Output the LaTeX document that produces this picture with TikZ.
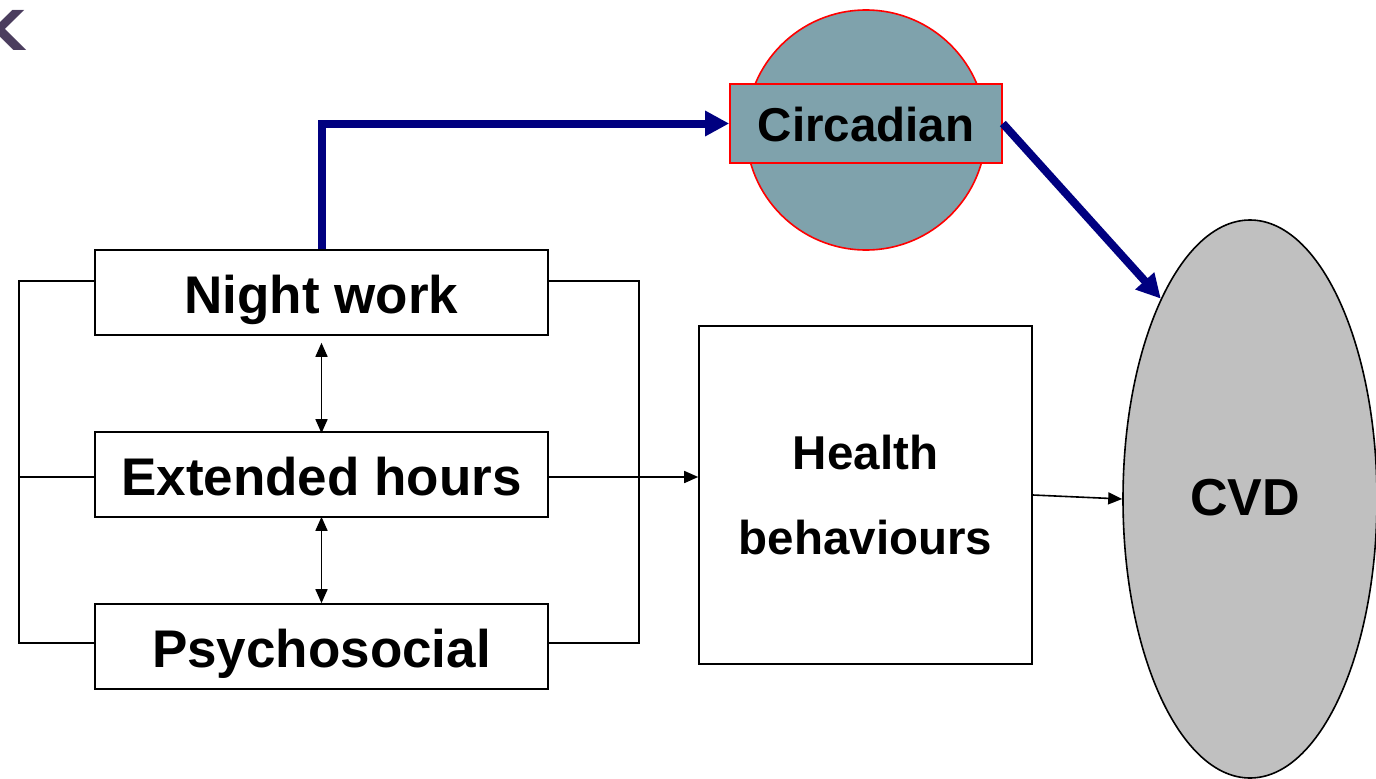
\documentclass[tikz,border=0pt]{standalone}
\usepackage{fontspec}
\setmainfont{Liberation Sans}
\newfontfamily\headingfont{DejaVu Sans}
\usetikzlibrary{arrows.meta,shapes.geometric}

\definecolor{circfill}{HTML}{7FA2AC}
\definecolor{navyarrow}{HTML}{000080}
\definecolor{cvdfill}{HTML}{C0C0C0}
\definecolor{titlepurple}{HTML}{4B3D5E}

\tikzset{
  factor/.style={draw=black, line width=1.6pt, fill=white, inner sep=0pt,
    minimum width=453pt, minimum height=85pt, text height=42pt, text depth=0pt,
    font=\fontsize{53}{60}\selectfont\bfseries},
  thin/.style={line width=1.6pt, black},
  thintip/.style={-{Triangle[length=14pt,width=12pt]}},
  bothtips/.style={{Triangle[length=14pt,width=12pt]}-{Triangle[length=14pt,width=12pt]}},
  bluearrow/.style={line width=8pt, navyarrow, -{Triangle[length=24pt,width=24pt]}},
}

\begin{document}
\begin{tikzpicture}[x=1pt, y=-1pt]
  \useasboundingbox (0,0) rectangle (1376,779);

  % fragment of a heading letter at the page edge
  \node[anchor=base east, inner sep=0pt, text=titlepurple,
        font=\headingfont\fontsize{55}{60}\selectfont\bfseries] (kfrag) at (25,50) {K};

  % the three work factors
  \node[factor] (nw) at (321.5,292.5) {Night work};
  \node[factor] (eh) at (321.5,474.5) {Extended hours};
  \node[factor] (ps) at (321.5,646.5) {Psychosocial};

  % mediators and outcome
  \node[draw=black, line width=1.6pt, fill=white, inner sep=0pt,
        minimum width=333pt, minimum height=338pt, align=center,
        font=\fontsize{47.5}{85}\selectfont\bfseries] (hb) at (865.5,495) {Health\\behaviours};

  \node[circle, draw=red, line width=1.6pt, fill=circfill, minimum size=240pt,
        inner sep=0pt] (circ) at (866,130) {};
  \node[draw=red, line width=1.6pt, fill=circfill, minimum width=272pt,
        minimum height=79pt, inner sep=0pt, text height=36pt, text depth=0pt,
        font=\fontsize{47.5}{55}\selectfont\bfseries] (circbox) at (866,123.5) {Circadian};

  \node[ellipse, draw=black, line width=1.6pt, fill=cvdfill, minimum width=254pt,
        minimum height=558pt, inner sep=0pt] (cvd) at (1250,499) {};
  \node[inner sep=0pt, text height=37pt, text depth=0pt,
        font=\fontsize{52}{60}\selectfont\bfseries] (cvdtext) at (1245,497) {CVD};

  % bracket attachment points
  \coordinate (nwl) at ([yshift=11.5pt]nw.west);
  \coordinate (ehl) at ([yshift=-2.5pt]eh.west);
  \coordinate (psl) at ([yshift=3.5pt]ps.west);
  \coordinate (nwr) at ([yshift=11.5pt]nw.east);
  \coordinate (ehr) at ([yshift=-2.5pt]eh.east);
  \coordinate (psr) at ([yshift=3.5pt]ps.east);
  \coordinate (lbar) at (19,0);
  \coordinate (rbar) at (639,0);

  % left bracket
  \draw[thin] (nwl) -| (lbar |- psl) -- (psl);
  \draw[thin] (ehl) -- (lbar |- ehl);
  % right bracket
  \draw[thin] (nwr) -| (rbar |- psr) -- (psr);
  \draw[thin, thintip] (ehr) -- (ehr -| hb.west);

  % links between the factors
  \draw[thin, bothtips, shorten <=7pt, shorten >=-2pt] (nw.south) -- (eh.north);
  \draw[thin, bothtips, shorten <=-1pt, shorten >=0pt] (eh.south) -- (ps.north);

  % health behaviours to CVD
  \draw[thin, thintip] (hb.east) -- (cvd.west);

  % circadian pathway
  \draw[bluearrow] (nw.north) |- (circbox.west);
  \draw[bluearrow] (circbox.east) -- (cvd.114);
\end{tikzpicture}
\end{document}
